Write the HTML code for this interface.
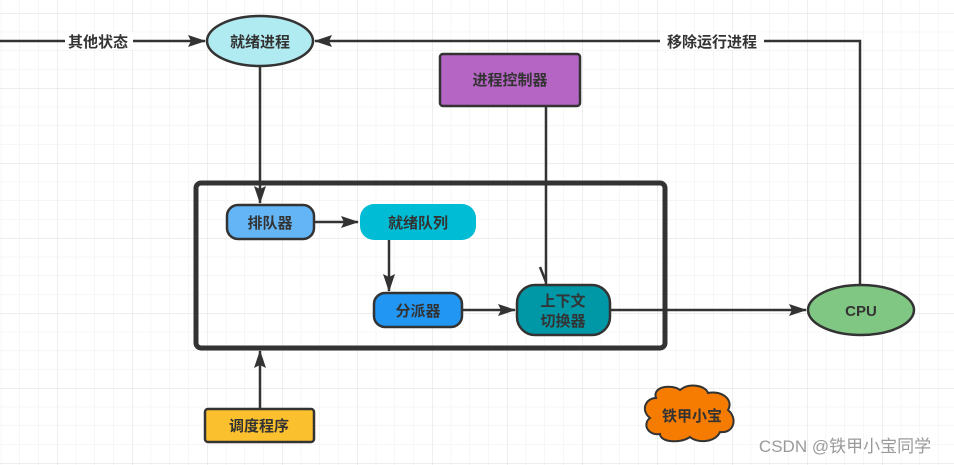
<!DOCTYPE html>
<html><head><meta charset="utf-8"><style>
html,body{margin:0;padding:0;background:#fff;}
svg{display:block;}
text{font-family:"Liberation Sans","Noto Sans CJK SC",sans-serif;font-weight:bold;fill:#333;font-size:15px;}
</style></head><body>
<svg width="954" height="465" viewBox="0 0 954 465" xmlns="http://www.w3.org/2000/svg">
<defs>
<pattern id="minor" x="57" y="13" width="18.75" height="18.75" patternUnits="userSpaceOnUse">
<path d="M0 0H18.75M0 0V18.75" stroke="#eeeeee" stroke-width="1" fill="none"/>
</pattern>
<pattern id="major" x="57" y="13" width="75" height="75" patternUnits="userSpaceOnUse">
<path d="M0 0H75M0 0V75" stroke="#e2e2e2" stroke-width="1.2" fill="none"/>
</pattern>
<marker id="ar" markerWidth="18" markerHeight="12" refX="17" refY="6" orient="auto" markerUnits="userSpaceOnUse">
<path d="M0 0L18 6L0 12L3 6Z" fill="#333"/>
</marker>
</defs>
<rect width="954" height="465" fill="url(#minor)"/>
<rect width="954" height="465" fill="url(#major)"/>
<g stroke="#333" stroke-width="2.5" fill="none">
<line x1="0" y1="41" x2="205" y2="41" marker-end="url(#ar)"/>
<polyline points="860,285 860,41 315,41" marker-end="url(#ar)"/>
<line x1="260" y1="66" x2="260" y2="203" marker-end="url(#ar)"/>
<line x1="546" y1="106" x2="546" y2="285"/>
<line x1="540" y1="267" x2="546" y2="282"/>
<line x1="314" y1="222" x2="358" y2="222" marker-end="url(#ar)"/>
<line x1="389" y1="240" x2="389" y2="291" marker-end="url(#ar)"/>
<line x1="462" y1="310" x2="515" y2="310" marker-end="url(#ar)"/>
<line x1="610" y1="310" x2="806" y2="310" marker-end="url(#ar)"/>
<line x1="260" y1="409" x2="260" y2="351" marker-end="url(#ar)"/>
</g>
<rect x="65" y="32" width="68" height="18" fill="#fff"/>
<text x="98" y="47" text-anchor="middle">其他状态</text>
<rect x="660" y="32" width="104" height="18" fill="#fff"/>
<text x="712" y="47" text-anchor="middle">移除运行进程</text>
<rect x="196" y="183" width="469" height="165" rx="5" fill="none" stroke="#333" stroke-width="5"/>
<ellipse cx="260" cy="41" rx="53" ry="25" fill="#b1ebf2" stroke="#333" stroke-width="2.5"/>
<text x="260" y="47" text-anchor="middle">就绪进程</text>
<rect x="440" y="54" width="140" height="52" rx="3" fill="#b565c3" stroke="#333" stroke-width="2.5"/>
<text x="510" y="85" text-anchor="middle">进程控制器</text>
<rect x="227" y="205" width="87" height="34" rx="11" fill="#64b5f6" stroke="#333" stroke-width="2.5"/>
<text x="270" y="228" text-anchor="middle">排队器</text>
<rect x="360" y="204" width="116" height="36" rx="14" fill="#00bcd4"/>
<text x="418" y="228" text-anchor="middle">就绪队列</text>
<rect x="374" y="293" width="88" height="34" rx="11" fill="#2196f3" stroke="#333" stroke-width="2.5"/>
<text x="418" y="316" text-anchor="middle">分派器</text>
<rect x="517" y="285" width="93" height="50" rx="18" fill="#0097a7" stroke="#333" stroke-width="2.5"/>
<text x="563" y="306" text-anchor="middle">上下文</text>
<text x="563" y="326" text-anchor="middle">切换器</text>
<ellipse cx="861" cy="310" rx="53" ry="25" fill="#81c784" stroke="#333" stroke-width="2.5"/>
<text x="861" y="316" text-anchor="middle">CPU</text>
<rect x="205" y="409" width="109" height="33" rx="3" fill="#fbc02d" stroke="#333" stroke-width="2.5"/>
<text x="259" y="431" text-anchor="middle">调度程序</text>
<path d="M656 398 C652 386,672 384,680 390 C690 382,706 386,708 393 C722 390,734 400,728 410 C738 418,734 434,720 432 C716 442,698 444,690 437 C680 444,660 442,660 434 C648 436,642 424,650 418 C640 410,646 398,656 398 Z" fill="#f57c00" stroke="#333" stroke-width="2"/>
<text x="692" y="421" text-anchor="middle">铁甲小宝</text>
<text x="845" y="452" text-anchor="middle" style="font-weight:normal;fill:#9a9a9a;font-size:17px">CSDN @铁甲小宝同学</text>
</svg>
</body></html>
